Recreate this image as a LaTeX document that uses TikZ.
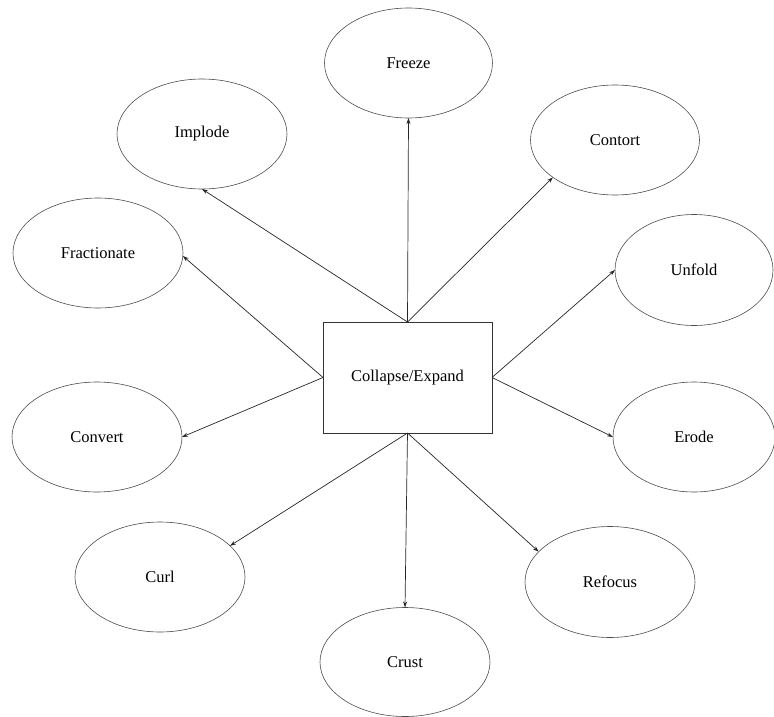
\documentclass[tikz,border=0pt]{standalone}
\usepackage{fontspec}
\setmainfont{Liberation Serif}
\usetikzlibrary{shapes.geometric,arrows.meta}
\tikzset{
  oval/.style={ellipse,draw=black!70,line width=0.6pt,inner sep=0pt,outer sep=0pt,
    minimum width=170pt,minimum height=110pt,font=\fontsize{16.5}{19}\selectfont},
  centerbox/.style={rectangle,draw=black!80,line width=0.7pt,inner sep=0pt,outer sep=0pt,
    minimum width=169pt,minimum height=111pt,font=\fontsize{16.5}{19}\selectfont},
  link/.style={draw=black!85,line width=0.7pt,-{Stealth[length=6pt,width=4pt]}}
}
\begin{document}
\begin{tikzpicture}[x=1pt,y=-1pt]
\useasboundingbox (0,0) rectangle (774,717);
\node[centerbox] (c) at (407.5,377.5) {Collapse/Expand};
\node[oval,minimum width=168pt] (freeze) at (408.5,63) {Freeze};
\node[oval] (implode) at (202,134) {Implode};
\node[oval,minimum width=169pt] (contort) at (615,140) {Contort};
\node[oval] (fract) at (98,253) {Fractionate};
\node[oval,minimum width=158pt,minimum height=111pt] (unfold) at (694,270) {Unfold};
\node[oval] (convert) at (97,437) {Convert};
\node[oval,minimum width=162pt] (erode) at (694,437) {Erode};
\node[oval] (curl) at (160,577) {Curl};
\node[oval,minimum height=111pt] (refocus) at (610,582) {Refocus};
\node[oval,minimum height=109pt] (crust) at (405,662) {Crust};
\draw[link] (c.north) -- (freeze.south);
\draw[link] (c.north) -- (implode.south);
\draw[link] (c.north) -- (contort.211);
\draw[link] (c.west) -- (fract.-2);
\draw[link] (c.west) -- (convert.east);
\draw[link] (c.east) -- (unfold.west);
\draw[link] (c.east) -- (erode.west);
\draw[link] (c.south) -- (curl.24);
\draw[link] (c.south) -- (crust.north);
\draw[link] (c.south) -- (refocus.157);
\end{tikzpicture}
\end{document}
